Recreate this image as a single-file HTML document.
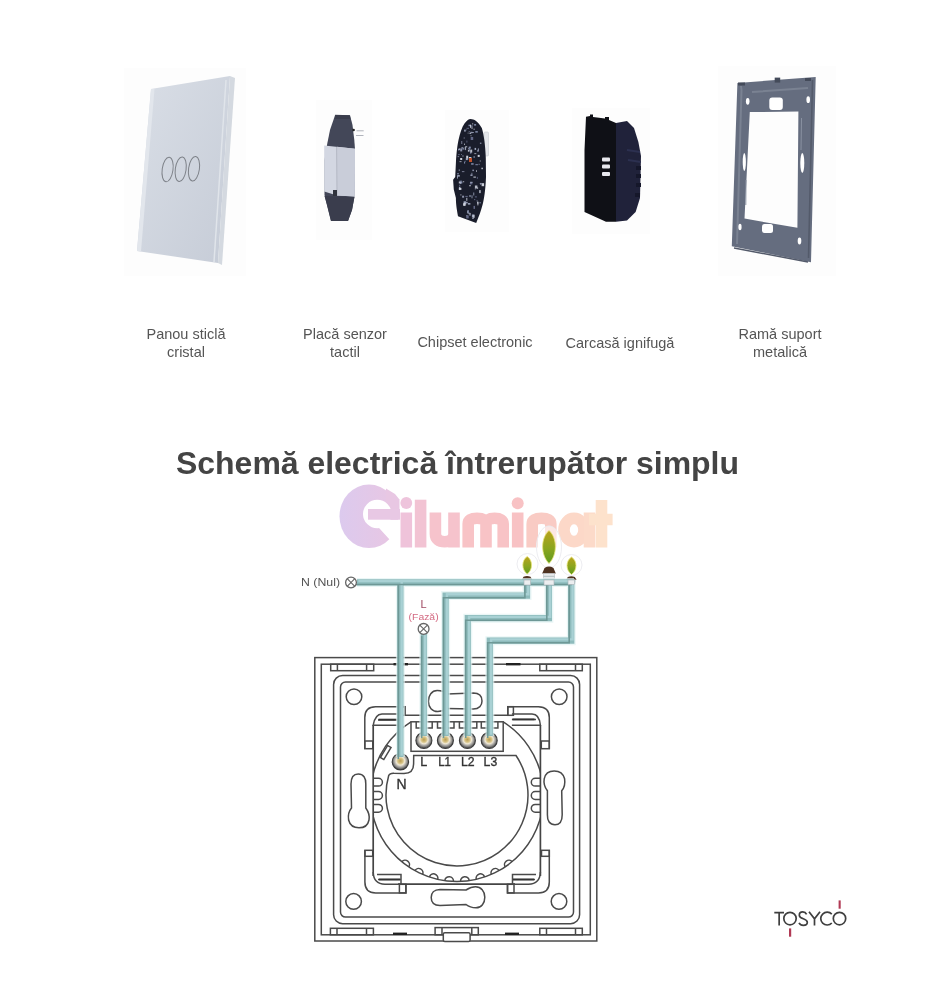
<!DOCTYPE html>
<html><head><meta charset="utf-8">
<style>
html,body{margin:0;padding:0;background:#fff;width:926px;height:1000px;overflow:hidden}
svg{display:block;will-change:transform;filter:blur(0.35px)}
.lbl{font-family:"Liberation Sans",sans-serif;font-size:14.5px;fill:#555;text-anchor:middle}
.ttl{font-family:"Liberation Sans",sans-serif;font-size:31px;font-weight:bold;fill:#444}
.dg{font-family:"Liberation Sans",sans-serif}
</style></head>
<body>
<svg width="926" height="1000" viewBox="0 0 926 1000">
<defs>
 <linearGradient id="glass" x1="0" y1="0" x2="1" y2="1">
  <stop offset="0" stop-color="#d9dee6"/><stop offset="1" stop-color="#c6ccd7"/>
 </linearGradient>
 <linearGradient id="leaf" x1="0" y1="0" x2="0" y2="1">
  <stop offset="0" stop-color="#b9a21c"/><stop offset="0.55" stop-color="#8aa51e"/><stop offset="1" stop-color="#5f9a1e"/>
 </linearGradient>
 <linearGradient id="wm" x1="0" y1="0" x2="1" y2="0">
  <stop offset="0" stop-color="#f7bfc6"/><stop offset="0.55" stop-color="#f9c7c3"/><stop offset="0.75" stop-color="#fcd9c7"/><stop offset="1" stop-color="#fde6d0"/>
 </linearGradient>
</defs>

<!-- ============ PRODUCTS ============ -->
<!-- glass panel -->
<g id="panel">
 <rect x="124" y="68" width="122" height="208" fill="#fdfdfd"/>
 <polygon points="151,89 230,76 218,263 137,251" fill="url(#glass)"/>
 <polygon points="230,76 235,78 222,265 218,263" fill="#d4d9e0"/>
 <polygon points="151,89 154.5,89 141,251.5 137,251" fill="#e2e6ec"/>
 <line x1="226" y1="80" x2="214" y2="262" stroke="#e0e4ea" stroke-width="1.5"/>
 <g fill="none" stroke="#7d8188" stroke-width="1">
  <ellipse cx="167.6" cy="169.5" rx="5.4" ry="12.4" transform="rotate(8 167.6 169.5)"/>
  <ellipse cx="180.7" cy="169.2" rx="5.4" ry="12.4" transform="rotate(8 180.7 169.2)"/>
  <ellipse cx="194" cy="168.8" rx="5.4" ry="12.4" transform="rotate(8 194 168.8)"/>
 </g>
</g>

<!-- sensor plate -->
<g id="sensor">
 <rect x="316" y="100" width="56" height="140" fill="#fdfdfd"/>
 <polygon points="335.2,114.8 350,115.2 352.5,125 354.3,140 355,149 354.5,196 352,210 348,221 331,221 327,205 324.5,195 324.5,160 326.9,145.4 330,130" fill="#434758"/>
 <polygon points="335.5,115 349.8,115.3 350.5,119 335,119" fill="#3a3d4c"/>
 <polygon points="324.2,145.6 355,148.8 354.6,196.5 337,195.5 324.2,191.5" fill="#d3d7e2"/>
 <polygon points="337,146.8 355,148.8 354.6,196.5 337,195.5" fill="#c9cdd9"/>
 <line x1="336.6" y1="147" x2="337" y2="195" stroke="#b4b8c4" stroke-width="1"/>
 <rect x="333" y="190" width="4" height="6" fill="#30333d"/>
 <polygon points="324.5,196 354.5,197 352,210 348,221 331,221 327,205" fill="#3a3d4d"/>
 <circle cx="353.6" cy="130" r="1.3" fill="#222"/>
 <path d="M356.5,130.8 H363.7 M356,135.5 H363.5" stroke="#a8acb4" stroke-width="0.9"/>
</g>

<!-- chipset -->
<g id="chip">
 <rect x="445" y="110" width="64" height="122" fill="#fdfdfd"/>
 <rect x="484" y="132" width="4.5" height="24" rx="1" fill="#e4e6ea" stroke="#c8ccd2" stroke-width="0.6"/>
 <path d="M470.6,118.9 C474,119 478,121 481.8,128 C484,135 485.3,145 485.8,158 L486,177 C485.5,190 484,200 482.5,205 C481,211 479,216 476.2,223 L458,216.2 C456.5,208 455.9,203 455.9,198 L453.8,189.6 L453.1,179.8 L455.2,177 L455.9,163 C456.5,152 457.3,146 458.5,140 C460,133 462,127 464.5,123.5 C466.5,120.5 468.5,119 470.6,118.9 Z" fill="#1a1d2b"/>
 <g opacity="0.9"><rect x="461.1" y="154.1" width="0.8" height="0.8" fill="#8d98b8"/><rect x="471.3" y="132.0" width="2.5" height="1" fill="#9aa0b8"/><rect x="468.7" y="131.3" width="1" height="0.8" fill="#8d98b8"/><rect x="478.7" y="163.8" width="0.8" height="1" fill="#b0b8d0"/><rect x="481.6" y="183.2" width="2.5" height="3" fill="#e0e4ee"/><rect x="466.5" y="127.8" width="2.5" height="1" fill="#6a7090"/><rect x="471.1" y="163.2" width="2.5" height="1.5" fill="#8d98b8"/><rect x="463.6" y="201.3" width="2.5" height="3" fill="#b0b8d0"/><rect x="461.4" y="141.0" width="0.8" height="3" fill="#9aa0b8"/><rect x="469.9" y="182.4" width="2.5" height="2" fill="#6a7090"/><rect x="481.4" y="167.7" width="1.5" height="1.5" fill="#c8ccd8"/><rect x="474.2" y="199.3" width="1" height="0.8" fill="#8d98b8"/><rect x="469.9" y="151.8" width="1.5" height="2" fill="#6a7090"/><rect x="458.8" y="181.5" width="2.5" height="2" fill="#c8ccd8"/><rect x="462.1" y="195.7" width="2" height="2" fill="#9aa0b8"/><rect x="466.2" y="215.4" width="2.5" height="3" fill="#6a7090"/><rect x="466.2" y="155.7" width="2" height="3" fill="#e0e4ee"/><rect x="464.2" y="129.6" width="1.5" height="2" fill="#b0b8d0"/><rect x="458.9" y="186.8" width="1.5" height="3" fill="#b0b8d0"/><rect x="465.7" y="201.9" width="2" height="1.5" fill="#9aa0b8"/><rect x="468.3" y="213.3" width="2.5" height="0.8" fill="#e0e4ee"/><rect x="473.6" y="128.7" width="1" height="1" fill="#e0e4ee"/><rect x="479.8" y="160.5" width="0.8" height="1" fill="#e0e4ee"/><rect x="464.1" y="161.6" width="1" height="2" fill="#8d98b8"/><rect x="467.9" y="149.7" width="1.5" height="2" fill="#c8ccd8"/><rect x="463.7" y="137.5" width="1" height="1" fill="#9aa0b8"/><rect x="472.4" y="169.6" width="1.5" height="1.5" fill="#9aa0b8"/><rect x="470.7" y="137.0" width="2.5" height="3" fill="#6a7090"/><rect x="471.9" y="214.5" width="2.5" height="3" fill="#b0b8d0"/><rect x="458.9" y="187.9" width="2.5" height="2" fill="#e0e4ee"/><rect x="459.5" y="161.3" width="2" height="0.8" fill="#c8ccd8"/><rect x="465.9" y="129.5" width="1" height="0.8" fill="#6a7090"/><rect x="459.5" y="180.7" width="2.5" height="1" fill="#8d98b8"/><rect x="467.7" y="132.7" width="0.8" height="0.8" fill="#c8ccd8"/><rect x="460.8" y="182.0" width="1.5" height="1.5" fill="#8d98b8"/><rect x="460.2" y="158.0" width="2" height="2" fill="#e0e4ee"/><rect x="458.8" y="169.4" width="0.8" height="1.5" fill="#b0b8d0"/><rect x="477.9" y="148.4" width="1" height="3" fill="#9aa0b8"/><rect x="479.9" y="142.7" width="1.5" height="1" fill="#b0b8d0"/><rect x="457.3" y="175.1" width="2.5" height="1.5" fill="#b0b8d0"/><rect x="473.5" y="205.9" width="1.5" height="3" fill="#6a7090"/><rect x="467.9" y="210.2" width="1" height="3" fill="#8d98b8"/><rect x="466.3" y="197.8" width="1" height="3" fill="#c8ccd8"/><rect x="476.6" y="200.4" width="1" height="1" fill="#8d98b8"/><rect x="476.2" y="170.3" width="0.8" height="1.5" fill="#e0e4ee"/><rect x="474.6" y="147.9" width="1.5" height="2" fill="#b0b8d0"/><rect x="472.3" y="217.9" width="1.5" height="0.8" fill="#c8ccd8"/><rect x="469.5" y="132.8" width="1.5" height="1" fill="#e0e4ee"/><rect x="480.4" y="182.9" width="0.8" height="2" fill="#b0b8d0"/><rect x="473.7" y="156.0" width="0.8" height="2" fill="#b0b8d0"/><rect x="469.5" y="195.0" width="1" height="2" fill="#b0b8d0"/><rect x="477.7" y="154.9" width="2" height="2" fill="#e0e4ee"/><rect x="460.4" y="194.4" width="1" height="1" fill="#c8ccd8"/><rect x="470.9" y="125.6" width="2" height="1" fill="#8d98b8"/><rect x="479.4" y="202.3" width="1.5" height="1" fill="#8d98b8"/><rect x="457.2" y="175.6" width="0.8" height="3" fill="#b0b8d0"/><rect x="469.2" y="212.6" width="1" height="1" fill="#9aa0b8"/><rect x="465.1" y="147.2" width="1" height="3" fill="#6a7090"/><rect x="468.1" y="147.9" width="1" height="0.8" fill="#b0b8d0"/><rect x="468.9" y="157.0" width="2.5" height="3" fill="#e0e4ee"/><rect x="477.4" y="202.4" width="1" height="3" fill="#c8ccd8"/><rect x="457.0" y="173.3" width="2" height="1" fill="#8d98b8"/><rect x="472.2" y="123.4" width="1" height="1" fill="#e0e4ee"/><rect x="460.1" y="182.4" width="0.8" height="1.5" fill="#b0b8d0"/><rect x="471.5" y="172.8" width="0.8" height="3" fill="#9aa0b8"/><rect x="464.8" y="146.9" width="0.8" height="3" fill="#e0e4ee"/><rect x="476.9" y="176.9" width="0.8" height="2" fill="#6a7090"/><rect x="470.1" y="181.8" width="2.5" height="1" fill="#b0b8d0"/><rect x="470.2" y="149.6" width="2" height="3" fill="#c8ccd8"/><rect x="479.2" y="190.1" width="1.5" height="3" fill="#c8ccd8"/><rect x="463.1" y="203.6" width="0.8" height="2" fill="#e0e4ee"/><rect x="474.3" y="153.3" width="2" height="0.8" fill="#c8ccd8"/><rect x="477.1" y="187.3" width="1" height="1.5" fill="#c8ccd8"/><rect x="461.4" y="147.3" width="2" height="1" fill="#b0b8d0"/><rect x="469.0" y="214.4" width="2" height="1" fill="#b0b8d0"/><rect x="463.5" y="202.9" width="2" height="3" fill="#e0e4ee"/><rect x="462.2" y="155.6" width="1.5" height="0.8" fill="#b0b8d0"/><rect x="465.8" y="158.1" width="2" height="2" fill="#b0b8d0"/><rect x="468.5" y="124.7" width="2.5" height="1.5" fill="#8d98b8"/><rect x="466.4" y="215.2" width="1" height="0.8" fill="#9aa0b8"/><rect x="459.0" y="148.5" width="1" height="1.5" fill="#c8ccd8"/><rect x="477.0" y="201.7" width="1.5" height="2" fill="#c8ccd8"/><rect x="470.4" y="174.5" width="2" height="1.5" fill="#9aa0b8"/><rect x="477.3" y="149.8" width="1" height="2" fill="#9aa0b8"/><rect x="458.4" y="148.8" width="0.8" height="1.5" fill="#9aa0b8"/><rect x="462.7" y="181.4" width="1.5" height="0.8" fill="#e0e4ee"/><rect x="474.1" y="124.1" width="2" height="1.5" fill="#8d98b8"/><rect x="470.5" y="135.4" width="1" height="0.8" fill="#c8ccd8"/><rect x="462.4" y="148.1" width="1.5" height="1.5" fill="#8d98b8"/><rect x="465.3" y="195.9" width="2.5" height="1" fill="#6a7090"/><rect x="457.6" y="156.3" width="1.5" height="0.8" fill="#9aa0b8"/><rect x="470.1" y="124.8" width="1" height="3" fill="#e0e4ee"/><rect x="468.8" y="146.6" width="2" height="2" fill="#8d98b8"/><rect x="467.9" y="203.1" width="2.5" height="1.5" fill="#b0b8d0"/><rect x="464.0" y="143.7" width="1" height="1" fill="#e0e4ee"/><rect x="472.3" y="218.0" width="1" height="0.8" fill="#9aa0b8"/><rect x="479.8" y="183.0" width="2" height="1" fill="#9aa0b8"/><rect x="475.3" y="131.1" width="2.5" height="1.5" fill="#8d98b8"/><rect x="465.2" y="146.3" width="2" height="1" fill="#c8ccd8"/><rect x="458.0" y="148.8" width="1.5" height="1.5" fill="#8d98b8"/><rect x="458.2" y="154.1" width="1.5" height="1" fill="#6a7090"/><rect x="466.5" y="140.6" width="0.8" height="2" fill="#6a7090"/><rect x="461.9" y="171.3" width="2.5" height="0.8" fill="#9aa0b8"/><rect x="460.2" y="148.4" width="2" height="3" fill="#9aa0b8"/><rect x="464.7" y="160.8" width="1" height="0.8" fill="#8d98b8"/><rect x="473.4" y="214.9" width="1" height="3" fill="#e0e4ee"/><rect x="474.9" y="196.4" width="2" height="1" fill="#6a7090"/><rect x="473.4" y="192.5" width="0.8" height="3" fill="#b0b8d0"/><rect x="475.4" y="164.2" width="2.5" height="1" fill="#8d98b8"/><rect x="471.6" y="195.3" width="0.8" height="3" fill="#b0b8d0"/><rect x="474.8" y="188.6" width="1" height="0.8" fill="#9aa0b8"/><rect x="471.6" y="127.0" width="0.8" height="2" fill="#e0e4ee"/><rect x="473.4" y="176.6" width="2.5" height="1" fill="#e0e4ee"/><rect x="469.0" y="148.3" width="0.8" height="3" fill="#8d98b8"/><rect x="470.4" y="131.8" width="2" height="1.5" fill="#9aa0b8"/><rect x="465.1" y="204.2" width="1" height="1" fill="#b0b8d0"/><rect x="469.0" y="185.4" width="2" height="0.8" fill="#e0e4ee"/><rect x="467.0" y="210.4" width="0.8" height="3" fill="#b0b8d0"/><rect x="459.2" y="184.7" width="1" height="1.5" fill="#6a7090"/><rect x="474.9" y="185.5" width="2.5" height="3" fill="#c8ccd8"/></g>
 <rect x="469" y="158" width="3" height="4" fill="#c0502a"/>
</g>

<!-- housing -->
<g id="housing">
 <rect x="572" y="108" width="78" height="126" fill="#fdfdfd"/>
 <path d="M616,123 L627,121 L634,128 L638.4,142 L641,156 L640.5,177 L640,198 L635.6,212 L627,220.4 L616,221.8 Z" fill="#20223a"/>
 <path d="M627,150 L640,152 M628,160 L640.8,162" stroke="#2c3050" stroke-width="2" fill="none"/>
 <g fill="#15172a"><rect x="636" y="166" width="5" height="4"/><rect x="636" y="174" width="5" height="4"/><rect x="636" y="183" width="5" height="4"/><rect x="635" y="193" width="5" height="4"/></g>
 <path d="M586,116.8 L590,116 L590,114.5 L593,114.5 L593,117 L605,118.5 L605,117 L609,117 L609,120 L616,123 L616,221.8 L606,221.8 L584.5,212 L584.5,150 Z" fill="#0f1016"/>
 <g fill="#e8e8ee">
  <rect x="602" y="157.5" width="8" height="4" rx="1"/>
  <rect x="602" y="164.5" width="8" height="4" rx="1"/>
  <rect x="602" y="172" width="8" height="4" rx="1"/>
 </g>
</g>

<g id="frame">
 <rect x="718" y="66" width="118" height="210" fill="#fdfdfd"/>
 <path fill-rule="evenodd" fill="#656d7f" d="M737.4,83 L815.7,77 L811,262.3 L731.8,246.2 Z M749.8,112.1 L798.4,111.6 L797.4,227.8 L744.5,218.6 Z"/>
 <path fill="none" stroke="#7a8292" stroke-width="2" d="M741,86 L741.5,90 L737,244 M752,92 L808,88"/>
 <path fill="none" stroke="#535a6a" stroke-width="1.5" d="M812.5,80 L808.5,258 M734,248 L808,262"/>
 <g fill="#444b5a"><rect x="774.7" y="77.6" width="5.5" height="5"/><rect x="805" y="78" width="6" height="3"/><rect x="738" y="82.5" width="7" height="3"/></g>
 <g fill="#fff">
  <ellipse cx="747.7" cy="101.3" rx="1.8" ry="3.4"/>
  <ellipse cx="808.2" cy="99.7" rx="1.8" ry="3.4"/>
  <ellipse cx="740" cy="227" rx="1.6" ry="3.3"/>
  <ellipse cx="799.5" cy="241" rx="1.8" ry="3.4"/>
  <rect x="769.3" y="97.5" width="13.5" height="12.5" rx="3"/>
  <rect x="762" y="224" width="11" height="9" rx="2.5"/>
  <ellipse cx="744.3" cy="162" rx="1.6" ry="9"/>
  <ellipse cx="802.3" cy="163" rx="2" ry="10"/>
 </g>
 <path fill="none" stroke="#8a92a2" stroke-width="1" d="M801.5,118 L801,150 M746,180 L745.8,205"/>
</g>

<!-- labels -->
<text class="lbl" x="186" y="339">Panou sticlă</text>
<text class="lbl" x="186" y="357">cristal</text>
<text class="lbl" x="345" y="339">Placă senzor</text>
<text class="lbl" x="345" y="357">tactil</text>
<text class="lbl" x="475" y="347">Chipset electronic</text>
<text class="lbl" x="620" y="347.5">Carcasă ignifugă</text>
<text class="lbl" x="780" y="339">Ramă suport</text>
<text class="lbl" x="780" y="357">metalică</text>

<!-- title -->
<text class="ttl" x="176" y="474" textLength="563" lengthAdjust="spacingAndGlyphs">Schemă electrică întrerupător simplu</text>

<!-- DIAGRAM placeholder -->
<g id="diagram">
<!-- watermark -->
<g id="watermark">
 <defs><linearGradient id="eg" x1="0" y1="0" x2="1" y2="0"><stop offset="0" stop-color="#dccaee"/><stop offset="1" stop-color="#e9c6e2"/></linearGradient></defs>
 <ellipse cx="369" cy="516.3" rx="29.5" ry="31.8" fill="url(#eg)"/>
 <polygon points="386,488.5 395,494 399.5,499.5 399.5,509 386,509" fill="#e8c7e3"/>
 <circle cx="377.3" cy="514" r="14.3" fill="#fff"/>
 <polygon points="377,519.7 401,519.7 401,552 396,552 393.2,543.5 378.6,527.5" fill="#fff"/>
 <rect x="368" y="509" width="32" height="10.7" fill="#e8c8e4"/>
 <g fill="none" stroke-width="11.6">
  <path d="M406.3,512.5 V547.5" stroke="#efc3da"/>
  <path d="M420.6,499.7 V547.5" stroke="#f2c3d3"/>
  <path d="M435.4,512.5 V534 C435.4,539 439,541.7 444.7,541.7 C450.5,541.7 454,539 454,534 V512.5 M454,520 V547.5" stroke="#f6c3cc"/>
  <path d="M468.2,547.5 V524 Q468.2,518.3 477,518.3 Q486,518.3 486,524 V547.5 M486,524 Q486,518.3 494.6,518.3 Q503.2,518.3 503.2,524 V547.5" stroke="#f8c3c6"/>
  <path d="M517.7,512.5 V547.5" stroke="#f8c2c4"/>
  <path d="M532.2,547.5 V524 Q532.2,518.3 541.5,518.3 Q550.8,518.3 550.8,524 V547.5" stroke="#f9cbc4"/>
  <ellipse cx="574" cy="530" rx="10" ry="11.6" stroke="#fcd8c8" stroke-width="11.6"/>
  <path d="M589.5,512.5 V547.5" stroke="#fcdac9"/>
  <path d="M601.5,500 V547.5 M589,519.5 H612.6" stroke="#fde2cc"/>
 </g>
 <circle cx="406.3" cy="503" r="5.9" fill="#eec4dc"/>
 <circle cx="517.7" cy="503.2" r="6" fill="#f8c2c4"/>
</g>

<!-- plate -->
<g id="plate" fill="none" stroke="#4a4a4a" stroke-width="1.5">
 <rect x="314.8" y="657.6" width="282" height="283.4"/>
 <rect x="321.3" y="664.2" width="269" height="270.6"/>
 <rect x="333.6" y="675.5" width="246" height="248.2" rx="9"/>
 <rect x="340.5" y="682" width="233" height="235.1" rx="5"/>
 <!-- tabs -->
 <g>
  <rect x="330.7" y="664.2" width="43" height="6.5"/><line x1="337.4" y1="664.2" x2="337.4" y2="670.7"/><line x1="366.6" y1="664.2" x2="366.6" y2="670.7"/>
  <rect x="539.8" y="664.2" width="42.5" height="6.5"/><line x1="546.5" y1="664.2" x2="546.5" y2="670.7"/><line x1="575.5" y1="664.2" x2="575.5" y2="670.7"/>
  <rect x="330.4" y="928.3" width="43" height="6.5"/><line x1="337" y1="928.3" x2="337" y2="934.8"/><line x1="366.5" y1="928.3" x2="366.5" y2="934.8"/>
  <rect x="539.8" y="928.3" width="42.5" height="6.5"/><line x1="546.5" y1="928.3" x2="546.5" y2="934.8"/><line x1="575.5" y1="928.3" x2="575.5" y2="934.8"/>
  <rect x="435.1" y="927.6" width="43.2" height="7.2"/><line x1="442" y1="927.6" x2="442" y2="934.8"/><line x1="471.8" y1="927.6" x2="471.8" y2="934.8"/>
  <rect x="443.3" y="932.8" width="26.8" height="8.8" rx="1.5" fill="#fff"/>
 </g>
 <g fill="#222" stroke="none">
  <rect x="393.5" y="663" width="14.5" height="2.4"/><rect x="506" y="663" width="14.5" height="2.4"/>
  <rect x="393" y="932.6" width="14" height="2.4"/><rect x="505" y="932.6" width="14" height="2.4"/>
 </g>
 <!-- screw holes -->
 <circle cx="354" cy="696.7" r="7.8"/><circle cx="559.2" cy="696.7" r="7.8"/>
 <circle cx="353.6" cy="901.4" r="7.8"/><circle cx="559" cy="901.4" r="7.8"/>
 <!-- slots -->
 <path id="slotL" d="M358.2,774 C353,774 351,778 351,784 L351.5,808 C348.5,811.5 348,816 348.6,820 C350,825.5 354.5,827.8 359,827.8 C364,827.8 368,825 369,820 C369.8,815.5 368,811 365.8,808 L365.8,784 C366,778 363.5,774 358.2,774 Z"/>
 <use href="#slotL" transform="rotate(180 456.6 799.4)"/>
 <path id="slotB" d="M440,889.5 C434,889.5 431.2,893 431.2,897.4 C431.2,902 434,905.4 440,905.4 L466,904.5 C469,907 472,907.8 476,907.8 C481.5,907.8 484.8,903 484.8,897.2 C484.8,891 481,886.8 475.5,886.8 C471.5,886.8 468.5,888.5 466,890 Z"/>
 <use href="#slotB" transform="rotate(180 456.6 799.2)"/>
 <!-- brackets -->
 <path d="M364.8,748.7 V717.5 Q364.8,706.7 375.6,706.7 H404.9 V715.3 H507.8 V706.7 H538.4 Q549.3,706.7 549.3,717.6 V748.7"/>
 <rect x="364.8" y="741" width="8" height="7.7"/><rect x="541.3" y="741" width="8" height="7.7"/>
 <rect x="507.8" y="706.7" width="5.6" height="8.6"/><rect x="398.6" y="706.7" width="6.3" height="8.6"/>
 <path d="M364.9,850.3 V882 Q364.9,892.9 375.7,892.9 H405.9 V884.3"/>
 <path d="M549.3,850.3 V882 Q549.3,892.9 538.5,892.9 H507.5 V884.3"/>
 <rect x="364.9" y="850.3" width="7.8" height="6"/><rect x="541.5" y="850.3" width="7.8" height="6"/>
 <rect x="399.4" y="884.3" width="6.5" height="8.6"/><rect x="507.5" y="884.3" width="6.5" height="8.6"/>
 <!-- body -->
 <g stroke-width="1.7" stroke="#444">
  <line x1="373.2" y1="725" x2="373.2" y2="876"/>
  <line x1="540.4" y1="725" x2="540.4" y2="876"/>
  <line x1="398" y1="884.2" x2="515" y2="884.2"/>
 </g>
 <!-- clips -->
 <path d="M397.5,713.9 H382 Q375,714 373.2,725.2 H397.5 M378,720 H397.5"/>
 <path d="M378.5,719.6 H397.5" stroke="#333" stroke-width="1.8"/>
 <path d="M511.9,713.9 H532 Q539.5,714 540.4,725.2 H511.9 M511.9,719.4 H536"/>
 <path d="M512.5,719.4 H534.5" stroke="#333" stroke-width="1.8"/>
 <path d="M373.2,872 Q373.5,884 385,884.2 H401 V874.6 H377 M378,879.5 H401"/>
 <path d="M379,879.5 H400" stroke="#333" stroke-width="1.8"/>
 <path d="M540.4,872 Q540,884 528.5,884.2 H512.5 V874.6 H536 M512.5,879.5 H535"/>
 <path d="M513,879.5 H534" stroke="#333" stroke-width="1.8"/>
 <!-- outer arc (clipped) -->
 <clipPath id="bodyclip"><rect x="373.2" y="715" width="167.2" height="169.2"/></clipPath>
 <g clip-path="url(#bodyclip)">
  <path d="M411,721.8 A86.5,86.5 0 1,0 503.2,721.9"/>
 </g>
 <!-- bumps -->
 <path id="bumps" d="M512.1,861.7 A4.3,4.3 0 0 0 505.2,866.8 M499.1,870.6 A4.3,4.3 0 0 0 491.4,874.4 M484.6,877.0 A4.3,4.3 0 0 0 476.3,879.3 M469.2,880.6 A4.3,4.3 0 0 0 460.6,881.4 M453.4,881.4 A4.3,4.3 0 0 0 444.8,880.6 M437.7,879.3 A4.3,4.3 0 0 0 429.4,877.0 M422.6,874.4 A4.3,4.3 0 0 0 414.9,870.6 M408.8,866.8 A4.3,4.3 0 0 0 401.9,861.7"/>
 <!-- inner circle with notch -->
 <path d="M413.7,755.5 H516 A71,71 0 1,1 388.7,775.5 Q390,773 394,773.3 L404,773.6 Q413.6,773.4 413.6,764 Z"/>
 <!-- small tilted rect -->
 <rect x="378.7" y="750.5" width="14" height="4" transform="rotate(-59 385.7 752.5)"/>
 <!-- side D bumps -->
 <path d="M373.5,778.3 H378.5 A3.8,3.8 0 0 1 378.5,786.1 H373.5 M373.5,791.6 H378.5 A3.8,3.8 0 0 1 378.5,799.4 H373.5 M373.5,804.4 H378.5 A3.8,3.8 0 0 1 378.5,812.2 H373.5"/>
 <path d="M540.2,778.3 H535.2 A3.8,3.8 0 0 0 535.2,786.1 H540.2 M540.2,791.6 H535.2 A3.8,3.8 0 0 0 535.2,799.4 H540.2 M540.2,804.4 H535.2 A3.8,3.8 0 0 0 535.2,812.2 H540.2"/>
 <!-- terminal block -->
 <rect x="411" y="721.8" width="92.2" height="29.5" fill="#fff"/>
 <path d="M416.2,722 V727.9 H432.2 V722 M437.5,722 V727.9 H454 V722 M459.4,722 V727.9 H476.8 V722 M481.3,722 V727.9 H497.9 V722"/>
</g>

<!-- bulbs -->
<g id="bulbs">
 <g fill="#fff" fill-opacity="0.55" stroke="#ececf0" stroke-width="1">
  <circle cx="527.5" cy="564" r="10.5"/>
  <ellipse cx="549" cy="547" rx="12.5" ry="21"/>
  <circle cx="571.5" cy="565" r="10.5"/>
 </g>
 <g stroke="#e8e67a" stroke-width="0.8" fill="url(#leaf)">
  <path d="M527.2,556.5 C533,560 533,570 527.2,574 C521.4,570 521.4,560 527.2,556.5 Z"/>
  <path d="M549,530.5 C557.5,538 557.5,555 549,563.5 C540.5,555 540.5,538 549,530.5 Z"/>
  <path d="M571.5,557 C577.5,561 577.5,570 571.5,574.5 C565.5,570 565.5,561 571.5,557 Z"/>
 </g>
 <g fill="#4e3220">
  <path d="M521.8,579.8 L523.5,576.8 Q527,575.2 530.5,576.8 L532.3,579.8 Z"/>
  <path d="M542.2,573.6 L544.5,568 Q549,565.2 553.5,568 L555.8,573.6 Z"/>
  <path d="M566.2,579.8 L567.8,577 Q571.3,575.6 574.8,577 L576.6,579.8 Z"/>
 </g>
 <g fill="#e9eaec" stroke="#b8bcc0" stroke-width="0.6">
  <rect x="523.6" y="579.8" width="7.4" height="4"/>
  <rect x="543.6" y="573.5" width="10.8" height="9"/>
  <rect x="567.8" y="579.8" width="7.2" height="3.5"/>
 </g>
 <g stroke="#9aa" stroke-width="0.7">
  <line x1="543.6" y1="576.3" x2="554.4" y2="576.3"/><line x1="543.6" y1="578.8" x2="554.4" y2="578.8"/><line x1="543.6" y1="581.3" x2="554.4" y2="581.3"/>
 </g>
</g>

<!-- wires -->
<!-- screws -->
<defs><radialGradient id="scg" cx="0.5" cy="0.45" r="0.5">
 <stop offset="0" stop-color="#b89c52"/><stop offset="0.32" stop-color="#d8c486"/><stop offset="0.52" stop-color="#efe8d6"/><stop offset="0.75" stop-color="#a8a6a2"/><stop offset="1" stop-color="#5e5e5e"/>
</radialGradient></defs>
<g id="screws" fill="url(#scg)" stroke="#3c3c3c" stroke-width="1.1">
  <circle cx="423.9" cy="740.4" r="8"/><circle cx="445.4" cy="740.4" r="8"/>
  <circle cx="467.4" cy="740.4" r="8"/><circle cx="489.2" cy="740.4" r="8"/>
  <circle cx="400.4" cy="761.7" r="8.2"/>
</g>
<g id="wires" fill="none" stroke-linejoin="miter" stroke-linecap="butt">
 <defs>
 <g id="wpaths">
  <path d="M357,582.4 H574"/>
  <path d="M400.4,582.4 V757"/>
  <path d="M423.8,634 V736"/>
  <path d="M445.6,736 V595.6 H527 V583"/>
  <path d="M467.8,736 V618.2 H548.9 V583"/>
  <path d="M489.8,736 V640.7 H571.3 V583"/>
 </g>
 </defs>
 <use href="#wpaths" stroke="#e2f3f3" stroke-width="9" opacity="0.7"/>
 <use href="#wpaths" stroke="#8ebbbc" stroke-width="6.2"/>
 <use href="#wpaths" stroke="#a9d1d4" stroke-width="2.4" transform="translate(1.3,-1.3)"/>
 <use href="#wpaths" stroke="#6e9896" stroke-width="1.6" transform="translate(-2.1,2.1)"/>
</g>
<!-- re-draw bulb bases over wire -->
<g fill="#eceef0" stroke="#a8b0b4" stroke-width="0.6">
 <rect x="524" y="580" width="6.6" height="5"/>
 <rect x="544" y="580" width="10" height="5"/>
 <rect x="568" y="580" width="6.6" height="4.5"/>
</g>

<!-- labels -->
<g class="dg" font-size="12.5" fill="#333" stroke="#333" stroke-width="0.35">
 <text x="420.3" y="765.6">L</text>
 <text x="438.2" y="765.6" textLength="12.8" lengthAdjust="spacingAndGlyphs">L1</text>
 <text x="460.9" y="765.6" textLength="13.6" lengthAdjust="spacingAndGlyphs">L2</text>
 <text x="483.6" y="765.6" textLength="13.6" lengthAdjust="spacingAndGlyphs">L3</text>
 <text x="396.4" y="788.5" font-size="14">N</text>
</g>
<text class="dg" x="301" y="586.2" font-size="11.6" fill="#555" textLength="39" lengthAdjust="spacingAndGlyphs">N (Nul)</text>
<circle cx="351" cy="582.5" r="5.4" fill="#fff" stroke="#666" stroke-width="1.3"/>
<path d="M347.2,578.7 L354.8,586.3 M354.8,578.7 L347.2,586.3" stroke="#666" stroke-width="1.1"/>
<text class="dg" x="423.6" y="607.6" font-size="11" fill="#a04a62" text-anchor="middle">L</text>
<text class="dg" x="423.6" y="619.6" font-size="9.5" fill="#d46a82" text-anchor="middle" textLength="30" lengthAdjust="spacingAndGlyphs">(Fază)</text>
<circle cx="423.6" cy="628.9" r="5.4" fill="#fff" stroke="#666" stroke-width="1.3"/>
<path d="M419.8,625.1 L427.4,632.7 M427.4,625.1 L419.8,632.7" stroke="#666" stroke-width="1.1"/>

<!-- TOSYCO -->
<g id="tosyco">
 <g fill="none" stroke="#3f3f3f" stroke-width="1.7">
  <path d="M774.3,912.6 H784 M779.15,912.6 V925.4"/>
  <circle cx="790" cy="918.6" r="6.2"/>
  <path d="M806.6,914.3 C805.6,912.3 803.8,911.9 802.8,911.9 C800.5,911.9 799.3,913.3 799.3,915.2 C799.3,919.3 807.3,918.2 807.3,922.3 C807.3,924.3 805.6,925.4 803.3,925.4 C801.3,925.4 799.9,924.5 799,922.8"/>
  <path d="M809,911.8 L814.5,918.8 L820,911.8 M814.5,918.8 V925.4"/>
  <path d="M831.8,914.2 A6.4,6.4 0 1,0 831.8,923"/>
  <circle cx="839.5" cy="918.6" r="6.2"/>
 </g>
 <rect x="789" y="928.4" width="2.2" height="8.3" fill="#b13a55"/>
 <rect x="838.6" y="900.4" width="2.1" height="8.3" fill="#b13a55"/>
</g>

</g>

</svg>
</body></html>
